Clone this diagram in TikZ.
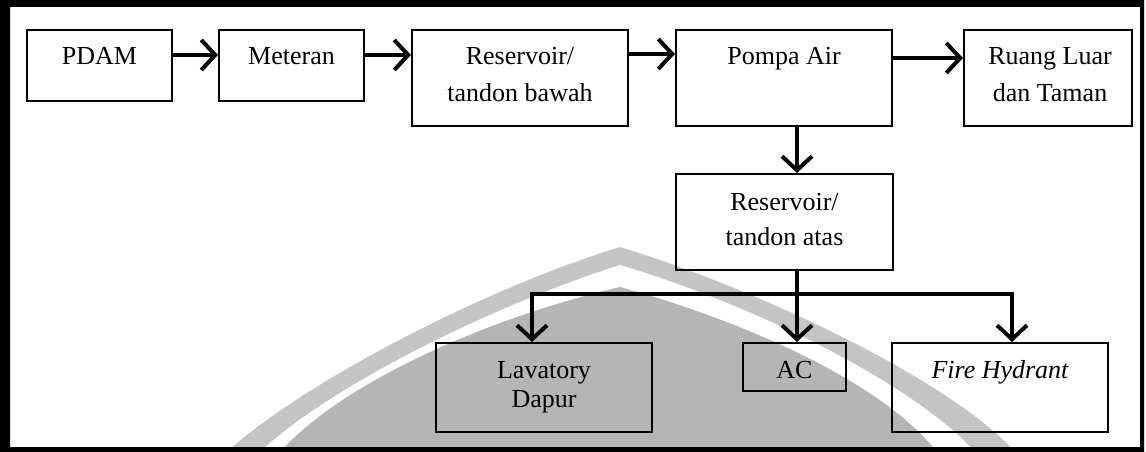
\documentclass[tikz,border=0pt]{standalone}
\usepackage{fontspec}
\setmainfont{Liberation Serif}
\usetikzlibrary{arrows.meta}
\definecolor{logodark}{RGB}{181,181,181}
\definecolor{logolight}{RGB}{196,196,196}
\begin{document}
\begin{tikzpicture}[x=1pt,y=-1pt,
  box/.style={draw=black,line width=2pt,inner sep=0pt},
  txt/.style={font=\fontsize{26}{30}\selectfont,anchor=base,inner sep=0pt},
  conn/.style={line width=4pt,-{Straight Barb[length=14pt,width=30pt]}}]
\useasboundingbox (0,0) rectangle (1146,452);
% background logo (watermark shape)
\begin{scope}
\clip (10,7) rectangle (1140,447);
\fill[logolight] (227,460) -- (227,452) .. controls (300,385) and (480,290) .. (620,247)
  .. controls (760,290) and (950,380) .. (1015,452) -- (1015,460) -- cycle;
\fill[white] (260,460) -- (260,452) .. controls (325,390) and (485,308) .. (620,265)
  .. controls (755,305) and (915,385) .. (975,452) -- (975,460) -- cycle;
\fill[logodark] (280,460) -- (280,452) .. controls (340,385) and (480,320) .. (620,287)
  .. controls (740,320) and (880,380) .. (937,452) -- (937,460) -- cycle;
\end{scope}
% frame
\fill[black,even odd rule] (0,0) rectangle (1144,452) (10,7) rectangle (1140,447);
% boxes
\node[box,minimum width=145pt,minimum height=71pt] (pdam) at (99.5,65.5) {};
\node[box,minimum width=145pt,minimum height=71pt] (met) at (291.5,65.5) {};
\node[box,minimum width=216pt,minimum height=96pt] (resb) at (520,78) {};
\node[box,minimum width=216pt,minimum height=96pt] (pompa) at (784,78) {};
\node[box,minimum width=168pt,minimum height=96pt] (ruang) at (1048,78) {};
\node[box,minimum width=217pt,minimum height=96pt] (resa) at (784.5,222) {};
\node[box,minimum width=216pt,minimum height=89pt] (lav) at (544,387.5) {};
\node[box,minimum width=103pt,minimum height=48pt] (ac) at (794.5,367) {};
\node[box,minimum width=216pt,minimum height=89pt] (fire) at (1000,387.5) {};
% texts
\node[txt] (tpdam) at (99.5,65) {PDAM};
\node[txt] (tmet) at (291.5,65) {Meteran};
\node[txt] (tresb1) at (520,65) {Reservoir/};
\node[txt] (tresb2) at (520,102) {tandon bawah};
\node[txt] (tpompa) at (784,65) {Pompa Air};
\node[txt] (truang1) at (1050,65) {Ruang Luar};
\node[txt] (truang2) at (1050,102) {dan Taman};
\node[txt] (tresa1) at (784.5,210) {Reservoir/};
\node[txt] (tresa2) at (784.5,245) {tandon atas};
\node[txt] (tlav1) at (544,378) {Lavatory};
\node[txt] (tlav2) at (544,407) {Dapur};
\node[txt] (tac) at (794.5,378) {AC};
\node[txt] (tfire) at (1000,378) {\itshape Fire Hydrant};
% connectors
\draw[conn] ([yshift=10.5pt]pdam.east) -- ([yshift=10.5pt]met.west);
\coordinate (m1) at ([yshift=10.5pt]met.east);
\draw[conn] (m1) -- (resb.west |- m1);
\draw[conn] ([yshift=24pt]resb.east) -- ([yshift=24pt]pompa.west);
\draw[conn] ([yshift=20pt]pompa.east) -- ([yshift=20pt]ruang.west);
\draw[conn] ([xshift=13pt]pompa.south) -- ([xshift=12.5pt]resa.north);
\coordinate (bus) at (797,294);
\draw[conn] ([xshift=12.5pt]resa.south) -- ([xshift=2.5pt]ac.north);
\draw[conn] (bus) -| ([xshift=-12pt]lav.north);
\draw[conn] (bus) -| ([xshift=12pt]fire.north);
\end{tikzpicture}
\end{document}
